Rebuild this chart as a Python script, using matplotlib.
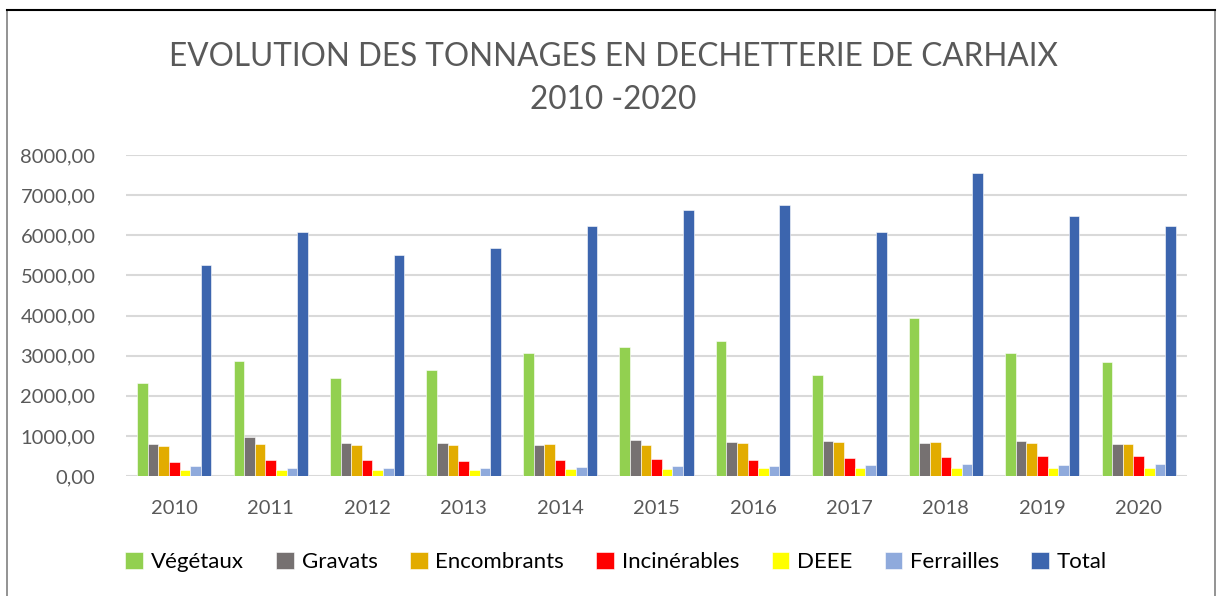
import matplotlib
matplotlib.use("Agg")
import matplotlib.pyplot as plt
import numpy as np
from matplotlib.ticker import FuncFormatter, MultipleLocator
from matplotlib.patches import Rectangle

plt.rcParams['font.family'] = ['Lato', 'DejaVu Sans']

years = ['2010', '2011', '2012', '2013', '2014', '2015', '2016', '2017', '2018', '2019', '2020']
series_names = ['Végétaux', 'Gravats', 'Encombrants', 'Incinérables', 'DEEE', 'Ferrailles', 'Total']
vegetaux = [2325, 2865, 2450, 2641, 3056, 3223, 3355, 2508, 3937, 3065, 2840]
gravats = [800, 980, 814, 814, 764, 897, 847, 872, 830, 864, 797]
encombrants = [748, 797, 772, 772, 789, 772, 822, 847, 855, 814, 797]
incinerables = [357, 390, 390, 365, 399, 415, 399, 440, 473, 490, 507]
deee = [150, 150, 150, 158, 166, 174, 199, 199, 199, 208, 199]
ferrailles = [241, 208, 208, 200, 216, 241, 249, 282, 299, 282, 299]
total = [5265, 6070, 5505, 5690, 6238, 6620, 6752, 6070, 7558, 6478, 6229]
colors = ['#92D050', '#767171', '#E2AC00', '#FF0000', '#FFFF00', '#8FAADC', '#3C65AE']

data = [vegetaux, gravats, encombrants, incinerables, deee, ferrailles, total]

W, H = 1218, 596
fig = plt.figure(figsize=(W / 100, H / 100), dpi=100)
ax = fig.add_axes([126 / W, 1 - 476 / H, (1187 - 126) / W, (476 - 155) / H])

x = np.arange(len(years))
bw = 0.11
n = len(data)
for i, (vals, name, c) in enumerate(zip(data, series_names, colors)):
    offs = (i - (n - 1) / 2) * bw
    ax.bar(x + offs, vals, width=bw, color=c, label=name, edgecolor='white', linewidth=0.4, zorder=3)

ax.set_xlim(-0.5, len(years) - 0.5)
ax.set_ylim(0, 8000)
ax.yaxis.set_major_locator(MultipleLocator(1000))
ax.yaxis.set_major_formatter(FuncFormatter(lambda v, p: f"{v:.2f}".replace('.', ',')))
ax.grid(axis='y', color='#D9D9D9', linewidth=1.5, zorder=0)
for s in ax.spines.values():
    s.set_visible(False)
ax.set_xticks(x)
ax.set_xticklabels(years)
ax.tick_params(axis='both', length=0, labelsize=14.5, colors='#595959')
ax.tick_params(axis='x', pad=17)
ax.tick_params(axis='y', pad=22)

fig.text(0.5035, 1 - 57 / H, 'EVOLUTION DES TONNAGES EN DECHETTERIE DE CARHAIX', ha='center', va='center',
         fontsize=22.7, color='#595959')
fig.text(0.5035, 1 - 100 / H, '2010 -2020', ha='center', va='center', fontsize=22.7, color='#595959')

leg = fig.legend(loc='center', bbox_to_anchor=(0.506, 1 - 562 / H), ncol=7, frameon=False,
                 fontsize=16, handlelength=0.8, handleheight=0.8, handletextpad=0.35,
                 columnspacing=1.45)

fig.patches.append(Rectangle((7 / W, -0.05), (1215 - 7) / W, 1.05 - 10 / H, transform=fig.transFigure,
                             fill=False, edgecolor='#808080', linewidth=1.2))
fig.lines.append(plt.Line2D([7 / W, 1215 / W], [1 - 10 / H, 1 - 10 / H], transform=fig.transFigure,
                            color='black', linewidth=1.5))

fig.savefig('out.png', dpi=100)
